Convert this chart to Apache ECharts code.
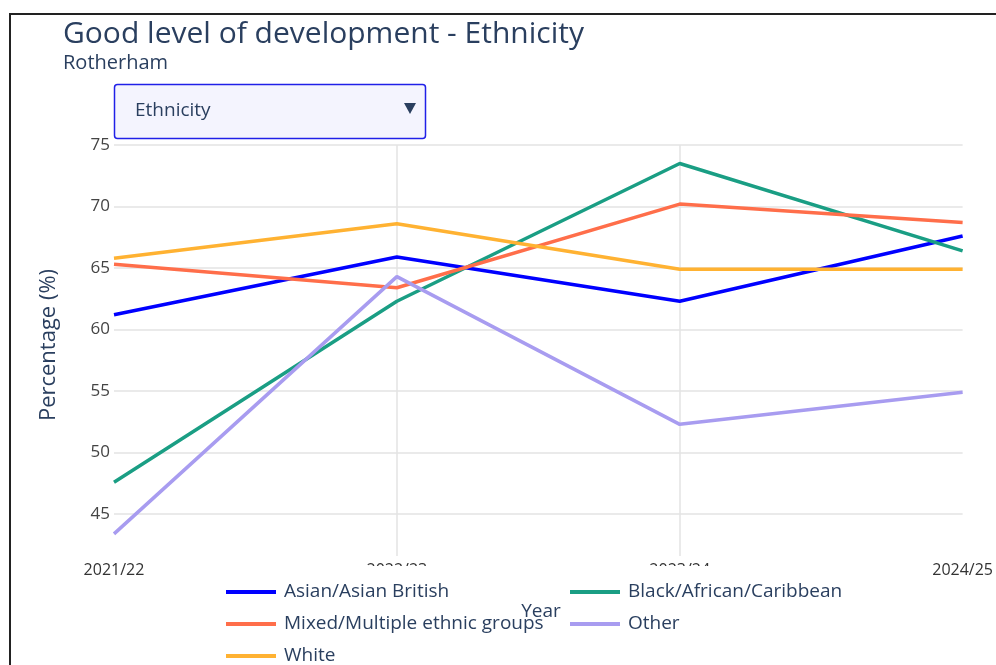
<!DOCTYPE html>
<html>
<head>
<meta charset="utf-8">
<script src="https://cdn.jsdelivr.net/npm/echarts@6/dist/echarts.min.js"></script>
<style>
  html, body { margin: 0; padding: 0; background: #fff; }
  #chart { width: 996px; height: 665px; }
</style>
</head>
<body>
<div id="chart"></div>
<script>
// 数据
var years = ["2021/22", "2022/23", "2023/24", "2024/25"];
var asian = [61.2, 65.9, 62.3, 67.6];
var black = [47.6, 62.3, 73.5, 66.4];
var mixed = [65.3, 63.4, 70.2, 68.7];
var other = [43.4, 64.3, 52.3, 54.9];
var white = [65.8, 68.6, 64.9, 64.9];

var fontFamily = "'Open Sans', Lato, sans-serif";
var textColor = "#2a3f5f";

var chart = echarts.init(document.getElementById("chart"));

function line(name, data, color) {
  return {
    name: name,
    type: "line",
    data: data,
    symbol: "none",
    lineStyle: { width: 3.5, color: color },
    itemStyle: { color: color },
  };
}

// 图例：每项单独定位，排成两列
function legendItem(name, left, top) {
  return {
    data: [name],
    left: left,
    top: top,
    padding: 0,
    icon: "rect",
    itemWidth: 50,
    itemHeight: 4,
    textStyle: {
      fontFamily: fontFamily,
      fontSize: 19,
      lineHeight: 20,
      color: textColor,
      padding: [0, 0, 0, 3],
    },
  };
}

var option = {
  animation: false,
  textStyle: { fontFamily: fontFamily },
  title: {
    text: "Good level of development - Ethnicity",
    subtext: "Rotherham",
    left: 58,
    top: 14,
    itemGap: 4,
    textStyle: { fontSize: 30, fontWeight: "normal", color: textColor, fontFamily: fontFamily },
    subtextStyle: { fontSize: 20, color: textColor, fontFamily: fontFamily },
  },
  grid: { left: 114, right: 32, top: 145, bottom: 109 },
  legend: [
    legendItem("Asian/Asian British", 226, 582),
    legendItem("Black/African/Caribbean", 570, 582),
    legendItem("Mixed/Multiple ethnic groups", 226, 614),
    legendItem("Other", 570, 614),
    legendItem("White", 226, 646),
  ],
  xAxis: {
    type: "category",
    data: years,
    boundaryGap: false,
    axisLine: { show: false },
    axisTick: { show: false },
    axisLabel: { fontSize: 16, color: "#333", margin: 6, fontFamily: fontFamily },
    splitLine: {
      show: true,
      interval: function (i) { return i > 0 && i < years.length - 1; },
      lineStyle: { color: "#e3e3e3", width: 1.5 },
    },
  },
  yAxis: {
    type: "value",
    min: 41.6,
    max: 75,
    minInterval: 5,
    maxInterval: 5,
    axisLine: { show: false },
    axisTick: { show: false },
    axisLabel: {
      fontSize: 17,
      color: "#444",
      margin: 4,
      fontFamily: fontFamily,
      formatter: function (v) { return v % 5 === 0 ? v : ""; },
    },
    splitLine: { show: true, showMinLine: false, lineStyle: { color: "#e3e3e3", width: 1.5 } },
  },
  graphic: [
    {
      type: "rect",
      z: 0,
      shape: { x: 10, y: 14, width: 1000, height: 700 },
      style: { fill: "none", stroke: "#222", lineWidth: 2 },
    },
    //图例背景，遮住部分x轴标签
    {
      type: "rect",
      z: 3,
      shape: { x: 216, y: 566, width: 690, height: 100 },
      style: { fill: "#fff" },
    },
    //下拉框
    {
      type: "rect",
      z: 50,
      shape: { x: 114.5, y: 84.5, width: 311, height: 54, r: 3 },
      style: { fill: "#f4f4fe", stroke: "#2020e8", lineWidth: 1.5 },
    },
    {
      type: "text",
      z: 51,
      x: 135,
      y: 111,
      style: { text: "Ethnicity", fontSize: 19, fontFamily: fontFamily, fill: textColor, verticalAlign: "middle" },
    },
    {
      type: "polygon",
      z: 51,
      shape: { points: [[404, 103], [416, 103], [410, 114]] },
      style: { fill: "#2a3f5f" },
    },
    {
      type: "text",
      z: 100,
      x: 541,
      y: 612,
      style: { text: "Year", fontSize: 19, fontFamily: fontFamily, fill: textColor, align: "center", verticalAlign: "middle" },
    },
    {
      type: "text",
      z: 100,
      x: 49,
      y: 345,
      rotation: Math.PI / 2,
      style: { text: "Percentage (%)", fontSize: 22, fontFamily: fontFamily, fill: textColor, align: "center", verticalAlign: "middle" },
    },
  ],
  series: [
    line("Asian/Asian British", asian, "#0000ff"),
    line("Black/African/Caribbean", black, "#1a9e84"),
    line("Mixed/Multiple ethnic groups", mixed, "#ff6e4a"),
    line("Other", other, "#a89cf0"),
    line("White", white, "#ffb232"),
  ],
};
chart.setOption(option);
window.onresize = function () {
  chart.resize();
};
</script>
</body>
</html>
